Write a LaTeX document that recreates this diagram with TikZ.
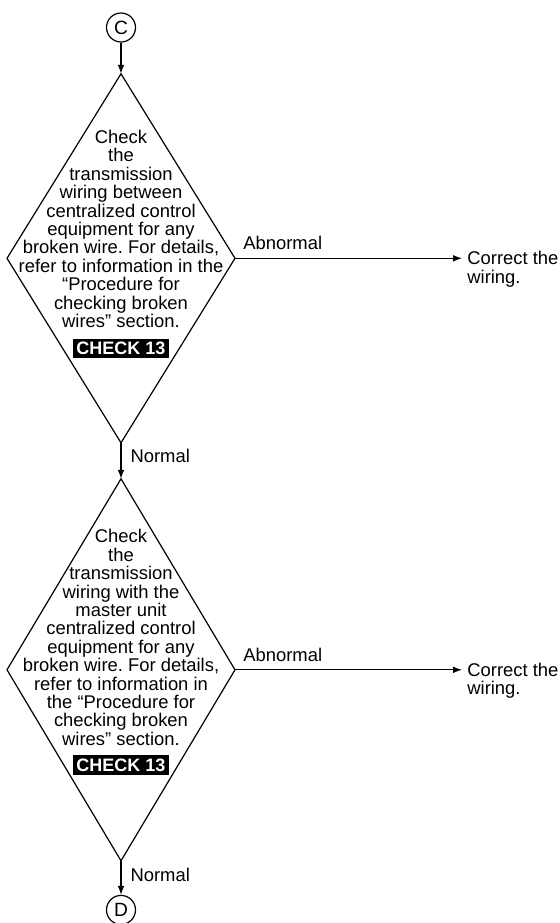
\documentclass[tikz,border=0pt]{standalone}
\usepackage{fontspec}
\setmainfont{Liberation Sans}
\usepackage{tikz}
\usetikzlibrary{positioning,arrows.meta,calc,shapes.geometric}
\frenchspacing

\begin{document}
\begin{tikzpicture}[
  font=\fontsize{9.2}{9.2}\selectfont,
  conn/.style={draw, circle, line width=0.6pt, minimum size=14.5pt, inner sep=0pt,
               font=\fontsize{9.6}{10}\selectfont},
  decision/.style={draw, diamond, line width=0.6pt, minimum width=114pt,
                   inner sep=0pt, outer sep=0pt},
  dtext/.style={align=center, inner sep=0pt},
  checkbox/.style={fill=black, text=white, font=\fontsize{9}{9}\selectfont\bfseries,
                   minimum width=48pt, minimum height=9.6pt, inner sep=0pt},
  fix/.style={align=left, inner sep=0pt},
  lbl/.style={inner sep=0pt},
  arr/.style={-{Latex[length=4.5pt,width=3.4pt]}, line width=0.6pt}
]
\useasboundingbox (0,0) rectangle (280pt,-461.5pt);

% ---- connectors and decisions ----
\node[conn] (c) at (60.5pt,-13.75pt) {C};
\node[decision, minimum height=184.5pt, below=15.6pt of c] (d1) {};
\node[decision, minimum height=191pt, below=18pt of d1] (d2) {};
\node[conn, below=17pt of d2] (d) {D};

% ---- texts in the diamonds ----
\node[dtext, below=28pt of d1.north] (t1)
  {Check\\ the\\ transmission\\ wiring between\\ centralized control\\
   equipment for any\\ broken wire. For details,\\ refer to information in the\\
   “Procedure for\\ checking broken\\ wires” section.};
\node[checkbox, below=5pt of t1] (k1) {CHECK 13};

\node[dtext, below=25.2pt of d2.north] (t2)
  {Check\\ the\\ transmission\\ wiring with the\\ master unit\\ centralized control\\
   equipment for any\\ broken wire. For details,\\ refer to information in\\
   the “Procedure for\\ checking broken\\ wires” section.};
\node[checkbox, below=4.5pt of t2] (k2) {CHECK 13};

% ---- abnormal branches ----
\coordinate[right=113.5pt of d1.east] (e1);
\coordinate[right=113.5pt of d2.east] (e2);
\node[fix, anchor=north west] (f1) at ($(e1)+(2.5pt,3.7pt)$) {Correct the\\ wiring.};
\node[fix, anchor=north west] (f2) at ($(e2)+(2.5pt,3.7pt)$) {Correct the\\ wiring.};

% ---- arrows ----
\draw[arr] (c) -- (d1);
\draw[arr] (d1) -- node[lbl, right=4.5pt, yshift=2.5pt] {Normal} (d2);
\draw[arr] (d2) -- node[lbl, right=4.5pt, yshift=1.5pt] {Normal} (d);
\draw[arr] (d1.east) -- node[lbl, pos=0, anchor=south west, xshift=3.9pt, yshift=3.9pt] {Abnormal} (e1);
\draw[arr] (d2.east) -- node[lbl, pos=0, anchor=south west, xshift=3.9pt, yshift=3.9pt] {Abnormal} (e2);
\end{tikzpicture}
\end{document}
